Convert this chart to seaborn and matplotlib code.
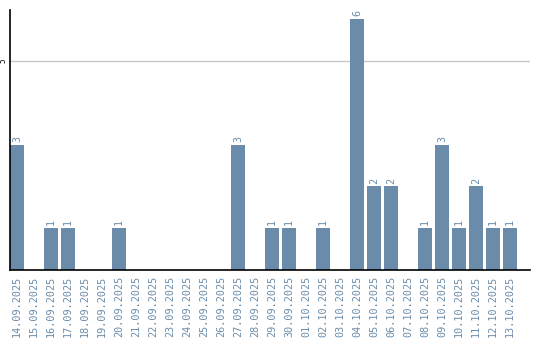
import matplotlib
matplotlib.use("Agg")
import matplotlib.pyplot as plt
import seaborn as sns
import pandas as pd

dates = ["14.09.2025", "15.09.2025", "16.09.2025", "17.09.2025", "18.09.2025",
         "19.09.2025", "20.09.2025", "21.09.2025", "22.09.2025", "23.09.2025",
         "24.09.2025", "25.09.2025", "26.09.2025", "27.09.2025", "28.09.2025",
         "29.09.2025", "30.09.2025", "01.10.2025", "02.10.2025", "03.10.2025",
         "04.10.2025", "05.10.2025", "06.10.2025", "07.10.2025", "08.10.2025",
         "09.10.2025", "10.10.2025", "11.10.2025", "12.10.2025", "13.10.2025"]
counts = [3, 0, 1, 1, 0, 0, 1, 0, 0, 0, 0, 0, 0, 3, 0,
          1, 1, 0, 1, 0, 6, 2, 2, 0, 1, 3, 1, 2, 1, 1]
yticks = [5]

sns.set_theme(style="white")
plt.rcParams['font.family'] = ['DejaVu Sans Mono', 'DejaVu Sans']

bar_color = "#6a8caa"
df = pd.DataFrame({"date": dates, "count": counts})

fig = plt.figure(figsize=(5.4, 3.4), dpi=100)
ax = fig.add_axes([10/540, 70/340, 520/540, 260/340])
sns.barplot(data=df, x="date", y="count", color=bar_color, saturation=1,
            width=0.82, linewidth=0, ax=ax, zorder=3)

ax.set_xlim(-0.41, 30.18)
ax.set_ylim(0, 6.22)
ax.set_yticks(yticks)
ax.set_yticklabels([str(v) for v in yticks], rotation=90, va="center",
                   fontsize=5.5, color="black")
ax.yaxis.grid(True, color="#c8c8c8", linewidth=1, zorder=0)
ax.tick_params(axis="y", length=0, pad=1.5)
ax.tick_params(axis="x", length=0, pad=4)
ax.set_xticks(range(len(dates)))
ax.set_xticklabels(dates, rotation=90, fontsize=7.3, color=bar_color)
ax.set_xlabel("")
ax.set_ylabel("")

for s in ["top", "right"]:
    ax.spines[s].set_visible(False)
for s in ["left", "bottom"]:
    ax.spines[s].set_visible(True)
    ax.spines[s].set_color("black")
    ax.spines[s].set_linewidth(1.2)
    ax.spines[s].set_zorder(4)

for i, v in enumerate(counts):
    if v > 0:
        ax.annotate(str(v), (i, v), xytext=(0, 2), textcoords="offset points",
                    rotation=90, ha="center", va="bottom", fontsize=7.3,
                    color=bar_color)

fig.savefig("out.png", dpi=100)
